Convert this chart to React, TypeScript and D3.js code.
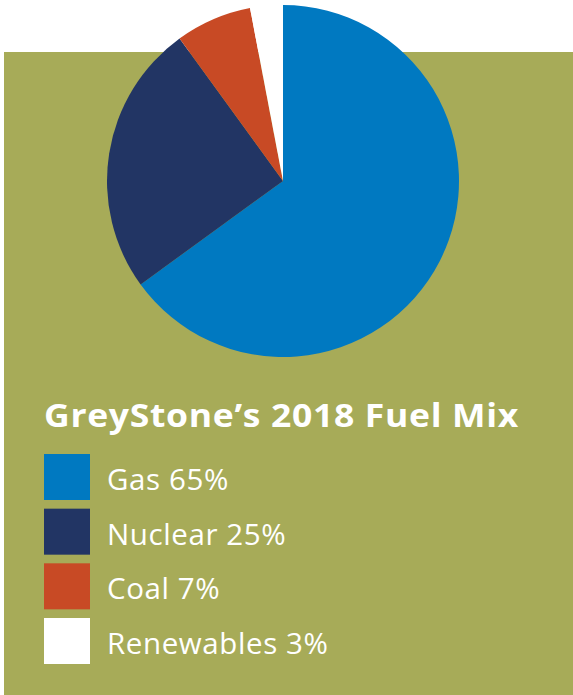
import React from "react";
import * as d3 from "d3";

const categories = ["Gas", "Nuclear", "Coal", "Renewables"];
const values = [65, 25, 7, 3];
const colors = ["#0079C1", "#223564", "#C84A25", "#FFFFFF"];
const title = "GreyStone\u2019s 2018 Fuel Mix";

export default function App() {
  const W = 573, H = 695;
  const cx = 283, cy = 181, r = 176;
  const pie = d3.pie<number>().sort(null).value((d) => d)(values);
  const arc = d3.arc<d3.PieArcDatum<number>>().innerRadius(0).outerRadius(r);
  const legendY = d3.scaleBand<string>().domain(categories).range([454, 664]).paddingInner(0.1585).paddingOuter(0);
  const sq = legendY.bandwidth();
  return (
    <svg width={W} height={H} style={{ position: "absolute", left: 0, top: 0 }}>
      <rect x={0} y={0} width={W} height={H} fill="#FFFFFF" />
      <rect x={4} y={52} width={W - 4} height={H - 52} fill="#A7AB58" />
      <g transform={`translate(${cx},${cy})`}>
        {pie.map((p, i) => (
          <path key={i} d={arc(p) || ""} fill={colors[i]} />
        ))}
      </g>
      <text x={44} y={427} fill="#FFFFFF" fontFamily="'Open Sans', sans-serif" fontWeight={700} fontSize={31.5} letterSpacing={0.6} textLength={475} lengthAdjust="spacingAndGlyphs">
        {title}
      </text>
      {categories.map((c, i) => (
        <g key={c}>
          <rect x={44} y={legendY(c)} width={46} height={sq} fill={colors[i]} />
          <text x={107} y={(legendY(c) as number) + 36} fill="#FFFFFF" fontFamily="'Open Sans', sans-serif" fontWeight={400} fontSize={29.5} letterSpacing={0.6}>
            {`${c} ${values[i]}%`}
          </text>
        </g>
      ))}
    </svg>
  );
}
